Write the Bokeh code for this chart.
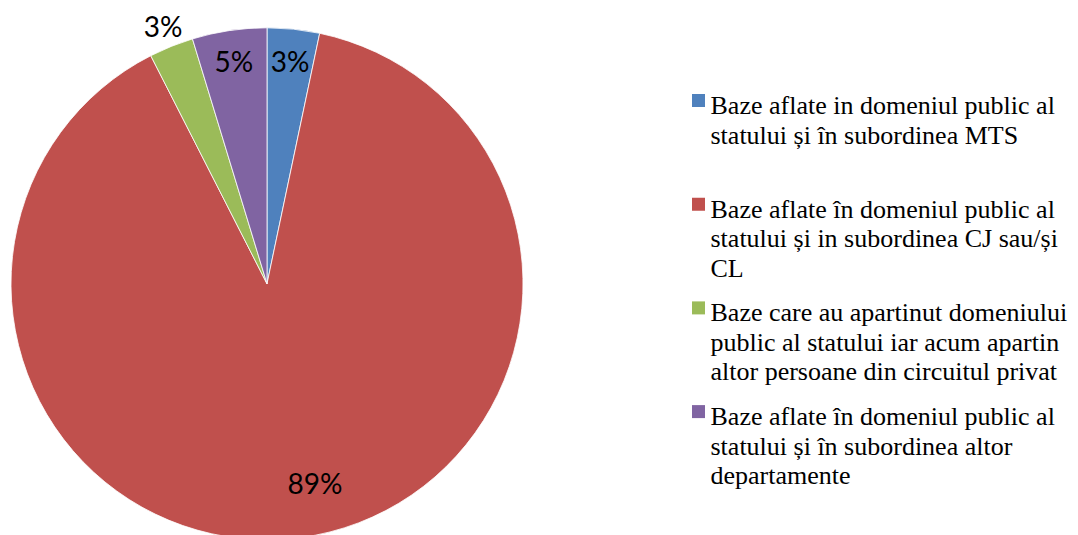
import math
from bokeh.plotting import figure
from bokeh.models import Range1d, ColumnDataSource
from bokeh.core.properties import value
from bokeh.embed import file_html
from bokeh.resources import INLINE

# ---- data ----
categories = [
    "Baze aflate in domeniul public al statului și în subordinea MTS",
    "Baze aflate în domeniul public al statului  și in subordinea CJ sau/și CL",
    "Baze care au apartinut domeniului public al statului iar acum apartin altor persoane din circuitul privat",
    "Baze aflate în domeniul public  al statului  și în subordinea altor departamente",
]
legend_lines = [
    ["Baze aflate in domeniul public al", "statului și în subordinea MTS"],
    ["Baze aflate în domeniul public al", "statului  și in subordinea CJ sau/și", "CL"],
    ["Baze care au apartinut domeniului", "public al statului iar acum apartin", "altor persoane din circuitul privat"],
    ["Baze aflate în domeniul public  al", "statului  și în subordinea altor", "departamente"],
]
shares = [3.3, 89.2, 2.8, 4.7]
labels = ["3%", "89%", "3%", "5%"]
colors = ["#4F81BD", "#C0504D", "#9BBB59", "#8064A2"]

# ---- layout (pixel-like data units) ----
W, H = 1078, 535
cx, cy, R = 266.5, 251.7, 256.0
label_rf = [0.875, 0.80, 1.085, 0.88]
label_shift_deg = [0.0, -6.0, 0.0, 0.0]

total = sum(shares)
starts, ends, lx, ly = [], [], [], []
a = math.pi / 2
for i, s in enumerate(shares):
    span = s / total * 2 * math.pi
    starts.append(a)
    ends.append(a - span)
    mid = a - span / 2 - math.radians(label_shift_deg[i])
    lx.append(cx + R * label_rf[i] * math.cos(mid))
    ly.append(cy + R * label_rf[i] * math.sin(mid))
    a -= span

p = figure(width=W, height=H, output_backend="svg", toolbar_location=None,
           x_range=Range1d(0, W), y_range=Range1d(0, H),
           x_axis_location=None, y_axis_location=None, min_border=0)
p.outline_line_color = None
p.grid.visible = False

src = ColumnDataSource(dict(start=starts, end=ends, color=colors))
p.wedge(x=cx, y=cy, radius=R, start_angle="start", end_angle="end",
        direction="clock", fill_color="color", line_color="white",
        line_width=0.8, source=src)

p.text(x=lx, y=ly, text=labels, text_font=value("Lato"),
       text_font_size="28px", text_align="center", text_baseline="middle",
       text_color="black")

# ---- legend ----
leg_x_sq, leg_x_txt = 698, 710
item_top = 430.0
item_step = 103.7
line_step = 29.5
sq_x, sq_y, tx, ty, tt = [], [], [], [], []
for k, lines in enumerate(legend_lines):
    base = item_top - k * item_step
    sq_x.append(leg_x_sq)
    sq_y.append(base + 5)
    for j, ln in enumerate(lines):
        tx.append(leg_x_txt)
        ty.append(base - j * line_step)
        tt.append(ln)

p.scatter(x=sq_x, y=sq_y, marker="square", size=13, fill_color=colors,
          line_color=None)
p.text(x=tx, y=ty, text=tt, text_font=value("Liberation Serif"),
       text_font_size="26px", text_align="left", text_baseline="alphabetic",
       text_color="black")

open("out.html", "w").write(file_html(p, INLINE))
